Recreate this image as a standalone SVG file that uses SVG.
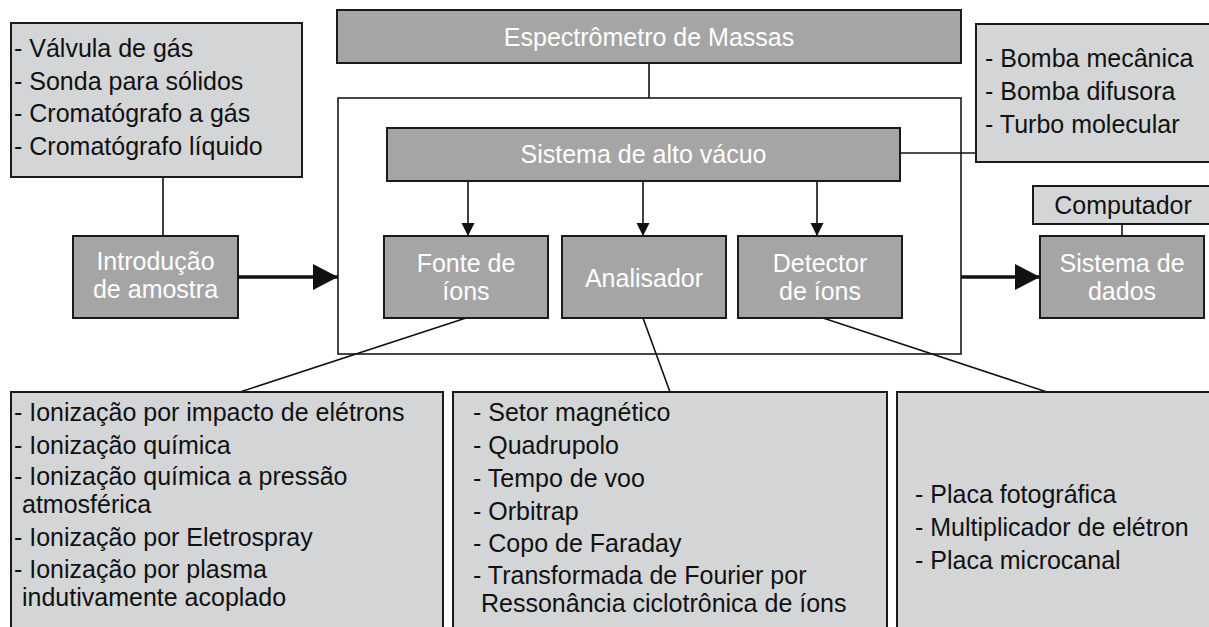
<svg xmlns="http://www.w3.org/2000/svg" width="1209" height="627" viewBox="0 0 1209 627">
<style>
text{font-family:"Liberation Sans",Arial,sans-serif;font-size:25px}
.dark{fill:#a5a5a5;stroke:#1a1a1a;stroke-width:2}
.light{fill:#d4d5d7;stroke:#1a1a1a;stroke-width:2}
.outer{fill:#fff;stroke:#1a1a1a;stroke-width:1.6}
.wt{fill:#fff;text-anchor:middle}
.bt{fill:#111}
.ln{stroke:#111;stroke-width:1.6;fill:none}
.thick{stroke:#111;stroke-width:3.5;fill:none}
</style>
<defs>
<marker id="big" markerUnits="userSpaceOnUse" markerWidth="26" markerHeight="28" refX="25" refY="13" orient="auto"><path d="M0,0 L25,13 L0,26 Z" fill="#111"/></marker>
<marker id="small" markerUnits="userSpaceOnUse" markerWidth="14" markerHeight="14" refX="13" refY="6.5" orient="auto"><path d="M0,0 L13,6.5 L0,13 Z" fill="#111"/></marker>
</defs>
<g id="outer-box"><rect class="outer" x="338" y="98" width="623" height="256"/></g>
<g id="connectors">
<line class="ln" x1="649" y1="63" x2="649" y2="98"/>
<line class="ln" x1="163" y1="177" x2="163" y2="236"/>
<line class="ln" x1="900" y1="153" x2="976" y2="153"/>
<line class="ln" x1="1122" y1="224" x2="1122" y2="236"/>
<line class="ln" x1="468" y1="181" x2="468" y2="236" marker-end="url(#small)"/>
<line class="ln" x1="643" y1="181" x2="643" y2="236" marker-end="url(#small)"/>
<line class="ln" x1="817" y1="181" x2="817" y2="236" marker-end="url(#small)"/>
<line class="thick" x1="238" y1="277" x2="338" y2="277" marker-end="url(#big)"/>
<line class="thick" x1="961" y1="277" x2="1040" y2="277" marker-end="url(#big)"/>
<line class="ln" x1="466" y1="318" x2="240" y2="392"/>
<line class="ln" x1="643" y1="318" x2="670" y2="392"/>
<line class="ln" x1="823" y1="318" x2="1047" y2="392"/>
</g>
<g id="spectrometer"><rect class="dark" x="337" y="10" width="624" height="53"/><text class="wt" x="649" y="46">Espectrômetro de Massas</text></g>
<g id="inlets"><rect class="light" x="11" y="23" width="291" height="154"/>
<text class="bt" x="14" y="57">- Válvula de gás</text>
<text class="bt" x="14" y="90">- Sonda para sólidos</text>
<text class="bt" x="14" y="122">- Cromatógrafo a gás</text>
<text class="bt" x="14" y="155">- Cromatógrafo líquido</text></g>
<g id="pumps"><rect class="light" x="976" y="24" width="240" height="138"/>
<text class="bt" x="985" y="67">- Bomba mecânica</text>
<text class="bt" x="985" y="100">- Bomba difusora</text>
<text class="bt" x="985" y="133">- Turbo molecular</text></g>
<g id="vacuum"><rect class="dark" x="387" y="128" width="513" height="53"/><text class="wt" x="643.5" y="163">Sistema de alto vácuo</text></g>
<g id="computer"><rect class="light" x="1033" y="186" width="180" height="38"/><text class="bt" x="1123" y="214" text-anchor="middle">Computador</text></g>
<g id="intro"><rect class="dark" x="73" y="236" width="165" height="82"/><text class="wt" x="155.5" y="270">Introdução</text><text class="wt" x="155.5" y="298">de amostra</text></g>
<g id="source"><rect class="dark" x="384" y="236" width="164" height="82"/><text class="wt" x="466" y="272">Fonte de</text><text class="wt" x="466" y="300">íons</text></g>
<g id="analyzer"><rect class="dark" x="562" y="236" width="164" height="82"/><text class="wt" x="644" y="287">Analisador</text></g>
<g id="detector"><rect class="dark" x="738" y="236" width="164" height="82"/><text class="wt" x="820" y="272">Detector</text><text class="wt" x="820" y="300">de íons</text></g>
<g id="data"><rect class="dark" x="1040" y="236" width="164" height="82"/><text class="wt" x="1122" y="272">Sistema de</text><text class="wt" x="1122" y="300">dados</text></g>
<g id="sources-list"><rect class="light" x="11" y="392" width="432" height="250"/>
<text class="bt" x="14" y="421">- Ionização por impacto de elétrons</text>
<text class="bt" x="14" y="454">- Ionização química</text>
<text class="bt" x="14" y="485">- Ionização química a pressão</text>
<text class="bt" x="22" y="513">atmosférica</text>
<text class="bt" x="14" y="546">- Ionização por Eletrospray</text>
<text class="bt" x="14" y="578">- Ionização por plasma</text>
<text class="bt" x="22" y="606">indutivamente acoplado</text></g>
<g id="analyzers-list"><rect class="light" x="453" y="392" width="434" height="250"/>
<text class="bt" x="473" y="421">- Setor magnético</text>
<text class="bt" x="473" y="454">- Quadrupolo</text>
<text class="bt" x="473" y="487">- Tempo de voo</text>
<text class="bt" x="473" y="520">- Orbitrap</text>
<text class="bt" x="473" y="552">- Copo de Faraday</text>
<text class="bt" x="473" y="584">- Transformada de Fourier por</text>
<text class="bt" x="481" y="612">Ressonância ciclotrônica de íons</text></g>
<g id="detectors-list"><rect class="light" x="897" y="392" width="320" height="250"/>
<text class="bt" x="915" y="503">- Placa fotográfica</text>
<text class="bt" x="915" y="536">- Multiplicador de elétron</text>
<text class="bt" x="915" y="569">- Placa microcanal</text></g>
</svg>
